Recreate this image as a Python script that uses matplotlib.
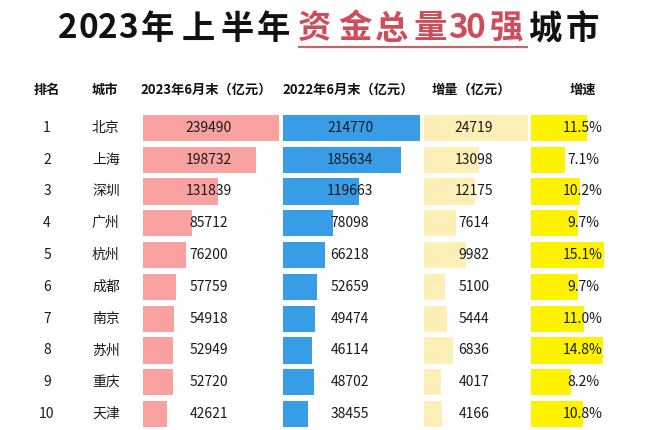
import matplotlib
matplotlib.use('Agg')
import matplotlib.pyplot as plt
from matplotlib.transforms import blended_transform_factory

plt.rcParams['font.family'] = ['Noto Sans CJK SC', 'DejaVu Sans']

# ---- data ----
ranks = [1, 2, 3, 4, 5, 6, 7, 8, 9, 10]
cities = ['北京', '上海', '深圳', '广州', '杭州', '成都', '南京', '苏州', '重庆', '天津']
v2023 = [239490, 198732, 131839, 85712, 76200, 57759, 54918, 52949, 52720, 42621]
v2022 = [214770, 185634, 119663, 78098, 66218, 52659, 49474, 46114, 48702, 38455]
increase = [24719, 13098, 12175, 7614, 9982, 5100, 5444, 6836, 4017, 4166]
growth = [11.5, 7.1, 10.2, 9.7, 15.1, 9.7, 11.0, 14.8, 8.2, 10.8]
headers = ['排名', '城市', '2023年6月末（亿元）', '2022年6月末（亿元）', '增量（亿元）', '增速']
title_black1 = '2023年上半年'
title_red = '资金总量30强'
title_black2 = '城市'

# ---- layout ----
W, H = 660, 430
fig = plt.figure(figsize=(6.6, 4.3), dpi=100)
fig.patch.set_facecolor('white')

base = fig.add_axes([0, 0, 1, 1])
base.set_xlim(0, W)
base.set_ylim(H, 0)
base.axis('off')

# title, character by character (letter-spaced)
title_chars = list(title_black1 + title_red + title_black2)
title_x = [67.5, 88, 107.5, 127.5, 157.5, 198, 237, 273,
           315, 355, 392, 430, 457.5, 475.5, 506.5, 545, 582]
n1, n2 = len(title_black1), len(title_red)
for k, (ch, x) in enumerate(zip(title_chars, title_x)):
    col = '#cf4d5b' if n1 <= k < n1 + n2 else '#111111'
    base.text(x, 29, ch, ha='center', va='center', fontsize=24,
              fontweight='bold', color=col)
base.plot([298, 528], [47, 47], color='#b96a6a', lw=1.6, solid_capstyle='butt')

# headers
header_x = [47, 105, 206, 348, 471, 583]
for hx, ht in zip(header_x, headers):
    base.text(hx, 90, ht, ha='center', va='center', fontsize=9.5,
              fontweight='bold', color='#111111')

top_px = 112
ax_h = (H - top_px) / H

# rank & city columns
rows_ax = fig.add_axes([0, 0, 1, ax_h])
rows_ax.set_xlim(0, W)
rows_ax.set_ylim(9.5, -0.5)
rows_ax.axis('off')
for i, (r, c) in enumerate(zip(ranks, cities)):
    rows_ax.text(47, i, str(r), ha='center', va='center', fontsize=10, color='#1a1a1a')
    rows_ax.text(92, i, c, ha='left', va='center', fontsize=10, color='#1a1a1a')


def bar_column(x0, width_px, values, bar_px_for_max, color, label_center_px, labels):
    ax = fig.add_axes([x0 / W, 0, width_px / W, ax_h])
    vmax = max(values)
    ax.set_xlim(0, vmax * width_px / bar_px_for_max)
    ax.set_ylim(9.5, -0.5)
    ax.axis('off')
    ax.barh(range(len(values)), values, height=0.82, color=color, left=0)
    tr = blended_transform_factory(ax.transAxes, ax.transData)
    fx = (label_center_px - x0) / width_px
    for i, lab in enumerate(labels):
        ax.text(fx, i, lab, transform=tr, ha='center', va='center',
                fontsize=10, color='#1a1a1a')
    return ax


bar_column(143, 140, v2023, 136, '#f9a1a1', 209, [str(v) for v in v2023])
bar_column(283, 140, v2022, 137, '#379de6', 350, [str(v) for v in v2022])
bar_column(424, 106, increase, 104, '#fcf0b6', 474, [str(v) for v in increase])
bar_column(531, 80, growth, 73, '#fff200', 583, [f'{g:.1f}%' for g in growth])

fig.savefig('out.png', dpi=100, facecolor='white')
